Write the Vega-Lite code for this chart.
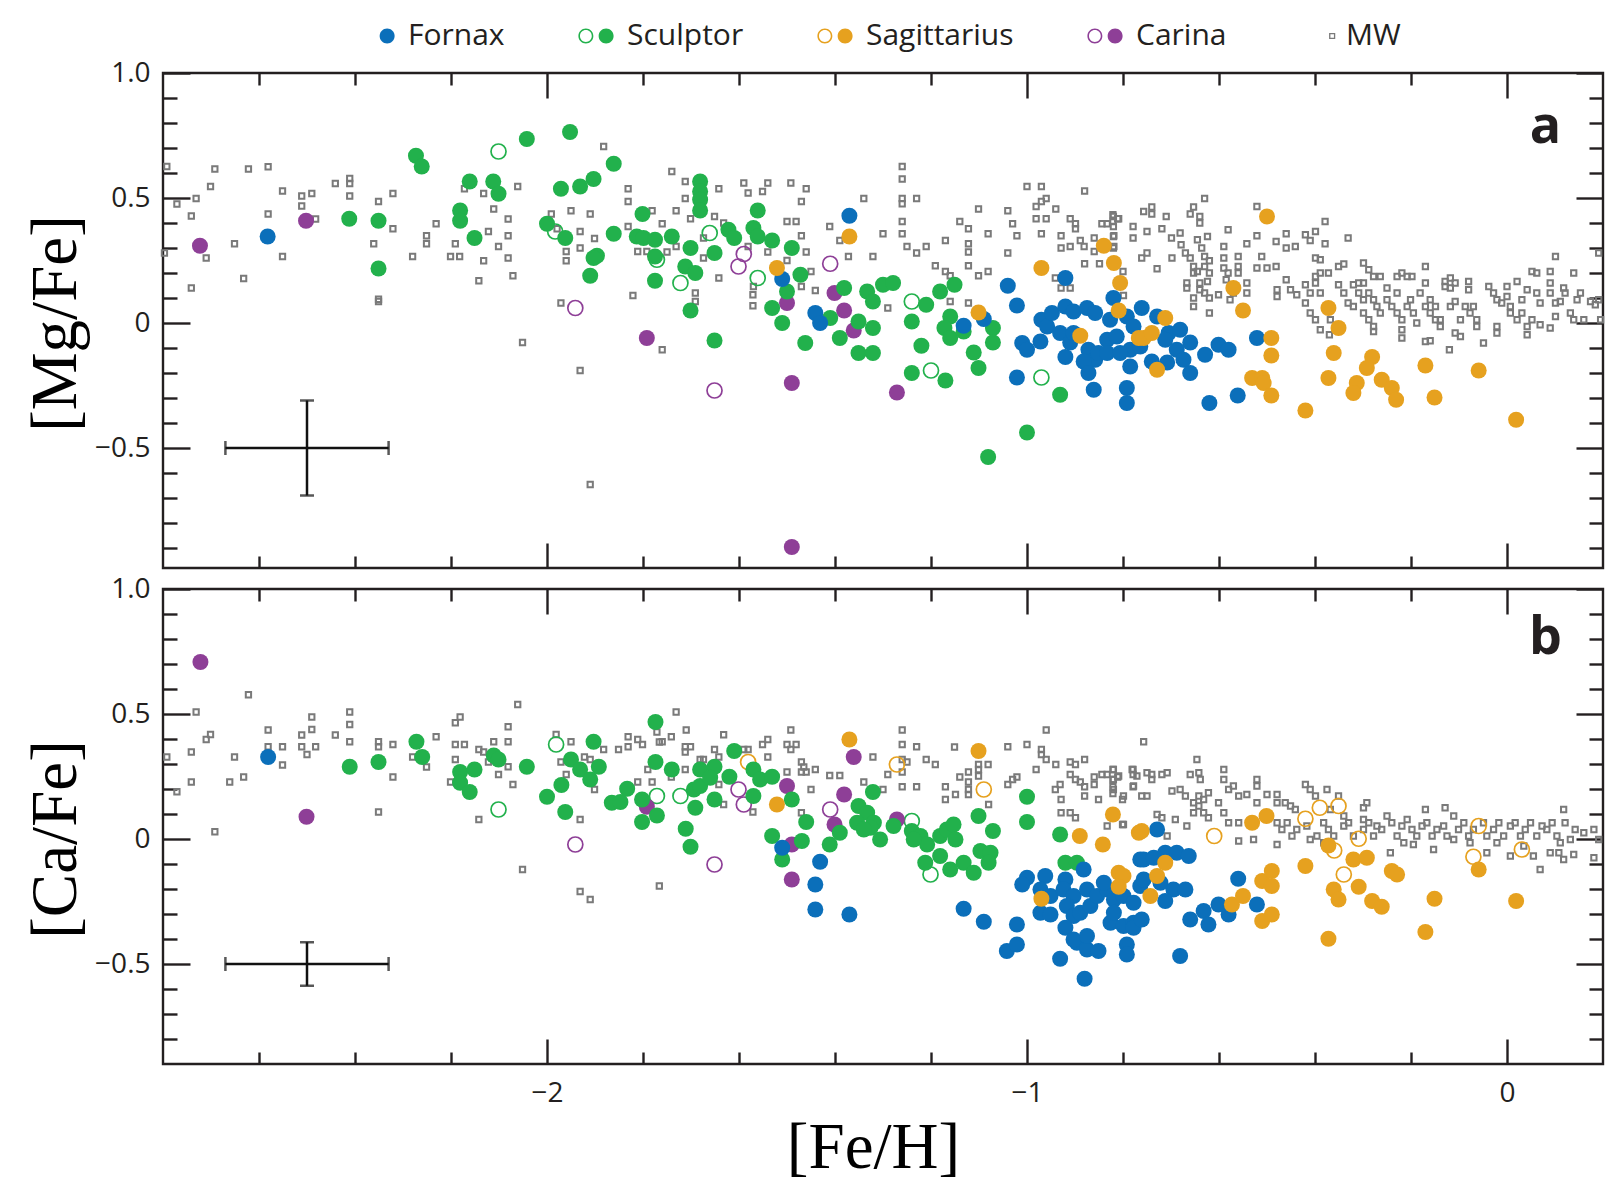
{
"$schema":"https://vega.github.io/schema/vega-lite/v6.json",
"background":"white",
"padding":{"left":21,"top":21,"right":5,"bottom":0},
"spacing":2,
"config":{
 "font":"Open Sans",
 "view":{"stroke":"#231f20","strokeWidth":2.4},
 "axis":{"domain":false,"grid":false,"tickColor":"#231f20","tickWidth":2.4,"labelFont":"Open Sans","labelFontSize":28,"labelColor":"#231f20","labelOverlap":false,"labelPadding":40,"titleFont":"Liberation Serif","titleFontSize":65,"titleFontWeight":"normal","titleColor":"#000000"},
 "legend":{"orient":"none","legendX":199,"legendY":-52,"direction":"horizontal","title":null,"labelFont":"Open Sans","labelFontSize":30,"labelColor":"#231f20","symbolSize":310,"labelOffset":16,"columnPadding":73}
},
"datasets":{
"mgMW":[
{"feh":-2.792,"xfe":0.626},{"feh":-2.771,"xfe":0.476},{"feh":-2.741,"xfe":0.428},{"feh":-2.731,"xfe":0.498},{"feh":-2.701,"xfe":0.546},{"feh":-2.692,"xfe":0.616},{"feh":-2.622,"xfe":0.616},{"feh":-2.581,"xfe":0.625},{"feh":-2.551,"xfe":0.528},{"feh":-2.581,"xfe":0.436},{"feh":-2.511,"xfe":0.508},{"feh":-2.49,"xfe":0.518},{"feh":-2.511,"xfe":0.468},{"feh":-2.482,"xfe":0.416},{"feh":-2.441,"xfe":0.558},{"feh":-2.411,"xfe":0.578},{"feh":-2.411,"xfe":0.558},{"feh":-2.411,"xfe":0.508},{"feh":-2.351,"xfe":0.486},{"feh":-2.321,"xfe":0.518},{"feh":-2.321,"xfe":0.377},{"feh":-2.361,"xfe":0.317},{"feh":-2.651,"xfe":0.317},{"feh":-2.71,"xfe":0.26},{"feh":-2.741,"xfe":0.14},{"feh":-2.632,"xfe":0.178},{"feh":-2.551,"xfe":0.266},{"feh":-2.28,"xfe":0.266},{"feh":-2.251,"xfe":0.349},{"feh":-2.251,"xfe":0.317},{"feh":-2.231,"xfe":0.397},{"feh":-2.191,"xfe":0.317},{"feh":-2.201,"xfe":0.266},{"feh":-2.182,"xfe":0.266},{"feh":-2.172,"xfe":0.537},{"feh":-2.132,"xfe":0.518},{"feh":-2.111,"xfe":0.456},{"feh":-2.081,"xfe":0.416},{"feh":-2.061,"xfe":0.546},{"feh":-2.122,"xfe":0.366},{"feh":-2.081,"xfe":0.349},{"feh":-2.101,"xfe":0.306},{"feh":-2.081,"xfe":0.26},{"feh":-2.132,"xfe":0.249},{"feh":-2.142,"xfe":0.169},{"feh":-2.071,"xfe":0.189},{"feh":-2.351,"xfe":0.086},{"feh":-2.351,"xfe":0.095},{"feh":-2.051,"xfe":-0.078},{"feh":-1.991,"xfe":0.436},{"feh":-1.979,"xfe":0.377},{"feh":-1.95,"xfe":0.449},{"feh":-1.91,"xfe":0.436},{"feh":-1.931,"xfe":0.366},{"feh":-1.901,"xfe":0.338},{"feh":-1.931,"xfe":0.3},{"feh":-1.96,"xfe":0.286},{"feh":-1.96,"xfe":0.249},{"feh":-1.971,"xfe":0.08},{"feh":-1.931,"xfe":-0.19},{"feh":-1.91,"xfe":-0.646},{"feh":-1.882,"xfe":0.706},{"feh":-1.831,"xfe":0.537},{"feh":-1.831,"xfe":0.486},{"feh":-1.831,"xfe":0.386},{"feh":-1.811,"xfe":0.286},{"feh":-1.792,"xfe":0.286},{"feh":-1.821,"xfe":0.11},{"feh":-1.781,"xfe":0.449},{"feh":-2.797,"xfe":0.28},
{"feh":-1.74,"xfe":0.606},{"feh":-1.712,"xfe":0.566},{"feh":-1.712,"xfe":0.498},{"feh":-1.731,"xfe":0.449},{"feh":-1.76,"xfe":0.397},{"feh":-1.701,"xfe":0.417},{"feh":-1.642,"xfe":0.537},{"feh":-1.651,"xfe":0.426},{"feh":-1.632,"xfe":0.4},{"feh":-1.674,"xfe":0.34},{"feh":-1.674,"xfe":0.26},{"feh":-1.731,"xfe":0.306},{"feh":-1.75,"xfe":0.284},{"feh":-1.642,"xfe":0.18},{"feh":-1.691,"xfe":0.12},{"feh":-1.691,"xfe":0.086},{"feh":-1.76,"xfe":-0.107},{"feh":-1.59,"xfe":0.56},{"feh":-1.581,"xfe":0.52},{"feh":-1.551,"xfe":0.526},{"feh":-1.54,"xfe":0.56},{"feh":-1.492,"xfe":0.56},{"feh":-1.46,"xfe":0.537},{"feh":-1.47,"xfe":0.486},{"feh":-1.5,"xfe":0.406},{"feh":-1.481,"xfe":0.406},{"feh":-1.47,"xfe":0.349},{"feh":-1.46,"xfe":0.284},{"feh":-1.54,"xfe":0.284},{"feh":-1.581,"xfe":0.306},{"feh":-1.57,"xfe":0.146},{"feh":-1.571,"xfe":0.113},{"feh":-1.571,"xfe":0.069},{"feh":-1.5,"xfe":0.25},{"feh":-1.47,"xfe":0.146},{"feh":-1.441,"xfe":0.13},{"feh":-1.45,"xfe":0.206},{"feh":-1.411,"xfe":0.386},{"feh":-1.39,"xfe":0.33},{"feh":-1.372,"xfe":0.266},{"feh":-1.34,"xfe":0.498},{"feh":-1.321,"xfe":0.266},{"feh":-1.3,"xfe":0.357},{"feh":-1.29,"xfe":0.06},{"feh":-1.26,"xfe":0.626},{"feh":-1.26,"xfe":0.576},{"feh":-1.26,"xfe":0.498},{"feh":-1.26,"xfe":0.477},{"feh":-1.23,"xfe":0.498},{"feh":-1.26,"xfe":0.406},{"feh":-1.26,"xfe":0.357},{"feh":-1.25,"xfe":0.306},{"feh":-1.23,"xfe":0.28},{"feh":-1.21,"xfe":0.306},{"feh":-1.17,"xfe":0.33},{"feh":-1.191,"xfe":0.229},{"feh":-1.17,"xfe":0.206},{"feh":-1.16,"xfe":0.189},{"feh":-1.16,"xfe":0.086},{"feh":-1.14,"xfe":0.406},{"feh":-1.122,"xfe":0.377},{"feh":-1.122,"xfe":0.317},{"feh":-1.122,"xfe":0.284},{"feh":-1.122,"xfe":0.229},{"feh":-1.122,"xfe":0.08},{"feh":-1.101,"xfe":0.456},{"feh":-1.081,"xfe":0.357},{"feh":-1.081,"xfe":0.206},{"feh":-1.101,"xfe":0.189},{"feh":-1.04,"xfe":0.449},{"feh":-1.03,"xfe":0.397},{"feh":-1.021,"xfe":0.349},{"feh":-1.04,"xfe":0.28},{"feh":-1.0,"xfe":0.546},{"feh":-0.97,"xfe":0.546},{"feh":-0.981,"xfe":0.466},{"feh":-0.97,"xfe":0.486},{"feh":-0.96,"xfe":0.498},{"feh":-0.981,"xfe":0.417},{"feh":-0.96,"xfe":0.417},{"feh":-0.94,"xfe":0.456},{"feh":-0.97,"xfe":0.357},{"feh":-0.929,"xfe":0.349},{"feh":-0.929,"xfe":0.3},{"feh":-0.91,"xfe":0.417},{"feh":-0.91,"xfe":0.306},{"feh":-0.899,"xfe":0.397},{"feh":-0.899,"xfe":0.377},{"feh":-0.889,"xfe":0.33},{"feh":-0.881,"xfe":0.306},{"feh":-0.88,"xfe":0.528},{"feh":-0.88,"xfe":0.237},{"feh":-0.86,"xfe":0.34},{"feh":-0.86,"xfe":0.286},{"feh":-0.849,"xfe":0.237},{"feh":-0.844,"xfe":0.397},{"feh":-0.833,"xfe":0.397},{"feh":-0.821,"xfe":0.433},{"feh":-0.821,"xfe":0.406},{"feh":-0.811,"xfe":0.417},{"feh":-0.819,"xfe":0.349},{"feh":-0.819,"xfe":0.306},{"feh":-0.779,"xfe":0.386},{"feh":-0.779,"xfe":0.34},{"feh":-0.941,"xfe":0.18},{"feh":-0.929,"xfe":0.14},{"feh":-0.91,"xfe":0.14},
{"feh":-0.82,"xfe":0.426},{"feh":-0.809,"xfe":0.417},{"feh":-0.82,"xfe":0.386},{"feh":-0.82,"xfe":0.346},{"feh":-0.82,"xfe":0.3},{"feh":-0.8,"xfe":0.206},{"feh":-0.799,"xfe":0.11},{"feh":-0.757,"xfe":0.446},{"feh":-0.74,"xfe":0.464},{"feh":-0.74,"xfe":0.436},{"feh":-0.75,"xfe":0.366},{"feh":-0.761,"xfe":0.26},{"feh":-0.75,"xfe":0.28},{"feh":-0.729,"xfe":0.217},{"feh":-0.719,"xfe":0.377},{"feh":-0.71,"xfe":0.426},{"feh":-0.698,"xfe":0.26},{"feh":-0.699,"xfe":0.34},{"feh":-0.681,"xfe":0.36},{"feh":-0.679,"xfe":0.313},{"feh":-0.67,"xfe":0.28},{"feh":-0.66,"xfe":0.436},{"feh":-0.653,"xfe":0.464},{"feh":-0.64,"xfe":0.426},{"feh":-0.64,"xfe":0.4},{"feh":-0.63,"xfe":0.498},{"feh":-0.624,"xfe":0.346},{"feh":-0.645,"xfe":0.333},{"feh":-0.636,"xfe":0.3},{"feh":-0.63,"xfe":0.266},{"feh":-0.62,"xfe":0.249},{"feh":-0.66,"xfe":0.26},{"feh":-0.653,"xfe":0.226},{"feh":-0.653,"xfe":0.2},{"feh":-0.645,"xfe":0.206},{"feh":-0.63,"xfe":0.226},{"feh":-0.62,"xfe":0.2},{"feh":-0.624,"xfe":0.166},{"feh":-0.667,"xfe":0.16},{"feh":-0.667,"xfe":0.14},{"feh":-0.64,"xfe":0.16},{"feh":-0.64,"xfe":0.133},{"feh":-0.63,"xfe":0.12},{"feh":-0.62,"xfe":0.1},{"feh":-0.653,"xfe":0.1},{"feh":-0.653,"xfe":0.066},{"feh":-0.62,"xfe":0.04},{"feh":-0.601,"xfe":0.113},{"feh":-0.59,"xfe":0.306},{"feh":-0.59,"xfe":0.26},{"feh":-0.59,"xfe":0.22},{"feh":-0.581,"xfe":0.373},{"feh":-0.581,"xfe":0.2},{"feh":-0.585,"xfe":0.173},{"feh":-0.577,"xfe":0.093},{"feh":-0.57,"xfe":0.12},{"feh":-0.56,"xfe":0.266},{"feh":-0.56,"xfe":0.226},{"feh":-0.56,"xfe":0.2},{"feh":-0.542,"xfe":0.317},{"feh":-0.542,"xfe":0.16},{"feh":-0.542,"xfe":0.12},{"feh":-0.521,"xfe":0.349},{"feh":-0.521,"xfe":0.466},{"feh":-0.511,"xfe":0.266},{"feh":-0.521,"xfe":0.22},{"feh":-0.5,"xfe":0.22},{"feh":-0.481,"xfe":0.226},{"feh":-0.481,"xfe":0.326},{"feh":-0.46,"xfe":0.357},{"feh":-0.46,"xfe":0.3},{"feh":-0.441,"xfe":0.306},{"feh":-0.42,"xfe":0.353},{"feh":-0.41,"xfe":0.33},{"feh":-0.399,"xfe":0.366},{"feh":-0.379,"xfe":0.406},{"feh":-0.379,"xfe":0.317},{"feh":-0.399,"xfe":0.26},{"feh":-0.389,"xfe":0.253},{"feh":-0.479,"xfe":0.133},{"feh":-0.479,"xfe":0.106},{"feh":-0.46,"xfe":0.173},{"feh":-0.451,"xfe":0.133},{"feh":-0.438,"xfe":0.113},{"feh":-0.42,"xfe":0.153},{"feh":-0.41,"xfe":0.12},{"feh":-0.399,"xfe":0.186},{"feh":-0.389,"xfe":0.2},{"feh":-0.372,"xfe":0.2},{"feh":-0.399,"xfe":0.16},{"feh":-0.389,"xfe":0.12},{"feh":-0.42,"xfe":0.08},{"feh":-0.41,"xfe":0.04},{"feh":-0.399,"xfe":0.013},{"feh":-0.389,"xfe":-0.027},{"feh":-0.37,"xfe":-0.047},{"feh":-0.368,"xfe":0.013},{"feh":-0.351,"xfe":0.226},{"feh":-0.34,"xfe":0.236},{"feh":-0.331,"xfe":0.34},{"feh":-0.351,"xfe":0.153},{"feh":-0.34,"xfe":0.12},{"feh":-0.331,"xfe":0.08},{"feh":-0.32,"xfe":0.153},{"feh":-0.309,"xfe":0.16},{"feh":-0.299,"xfe":0.16},{"feh":-0.309,"xfe":0.12},{"feh":-0.32,"xfe":0.066},{"feh":-0.299,"xfe":0.093},{"feh":-0.299,"xfe":0.24},{"feh":-0.288,"xfe":0.213},{"feh":-0.278,"xfe":0.186},{"feh":-0.264,"xfe":0.186},{"feh":-0.288,"xfe":0.12},{"feh":-0.278,"xfe":0.093},{"feh":-0.271,"xfe":0.066},{"feh":-0.299,"xfe":0.04},{"feh":-0.288,"xfe":0.013},{"feh":-0.278,"xfe":-0.014},{"feh":-0.278,"xfe":-0.034},{"feh":-0.264,"xfe":0.04},{"feh":-0.25,"xfe":0.14},{"feh":-0.25,"xfe":0.093},{"feh":-0.24,"xfe":0.066},{"feh":-0.229,"xfe":0.12},{"feh":-0.229,"xfe":0.186},{"feh":-0.219,"xfe":0.2},{"feh":-0.208,"xfe":0.186},{"feh":-0.198,"xfe":0.186},{"feh":-0.229,"xfe":0.04},{"feh":-0.219,"xfe":0.013},{"feh":-0.219,"xfe":-0.027},{"feh":-0.219,"xfe":-0.06},{"feh":-0.208,"xfe":0.066},{"feh":-0.201,"xfe":0.093},{"feh":-0.195,"xfe":0.04},{"feh":-0.188,"xfe":0.0},{"feh":-0.181,"xfe":0.12},{"feh":-0.17,"xfe":0.226},{"feh":-0.17,"xfe":0.16},{"feh":-0.17,"xfe":0.066},{"feh":-0.16,"xfe":0.093},{"feh":-0.16,"xfe":0.04},{"feh":-0.149,"xfe":0.066},{"feh":-0.17,"xfe":-0.074},{"feh":-0.16,"xfe":-0.071},{"feh":-0.149,"xfe":0.013},{"feh":-0.139,"xfe":0.013},{"feh":-0.139,"xfe":-0.014},{"feh":-0.129,"xfe":0.166},{"feh":-0.129,"xfe":0.146},{"feh":-0.118,"xfe":0.18},{"feh":-0.118,"xfe":0.14},{"feh":-0.108,"xfe":0.16},{"feh":-0.118,"xfe":0.066},{"feh":-0.108,"xfe":0.086},{"feh":-0.097,"xfe":0.013},{"feh":-0.108,"xfe":-0.04},{"feh":-0.097,"xfe":-0.054},{"feh":-0.12,"xfe":-0.107},{"feh":-0.087,"xfe":0.066},{"feh":-0.08,"xfe":0.166},{"feh":-0.08,"xfe":0.133},{"feh":-0.077,"xfe":0.04},{"feh":-0.07,"xfe":0.066},{"feh":-0.063,"xfe":0.013},{"feh":-0.063,"xfe":-0.014},{"feh":-0.049,"xfe":-0.08},{"feh":-0.038,"xfe":0.146},{"feh":-0.028,"xfe":0.12},{"feh":-0.021,"xfe":0.093},{"feh":-0.021,"xfe":-0.014},{"feh":-0.021,"xfe":-0.04},{"feh":-0.011,"xfe":0.08},{"feh":0.0,"xfe":0.146},{"feh":0.0,"xfe":0.106},{"feh":0.007,"xfe":0.066},{"feh":0.007,"xfe":0.04},{"feh":0.021,"xfe":0.166},{"feh":0.021,"xfe":0.013},{"feh":0.031,"xfe":0.093},{"feh":0.031,"xfe":0.04},{"feh":0.042,"xfe":0.133},{"feh":0.042,"xfe":-0.014},{"feh":0.042,"xfe":-0.047},{"feh":0.052,"xfe":0.206},{"feh":0.062,"xfe":0.2},{"feh":0.052,"xfe":0.013},{"feh":0.062,"xfe":0.12},{"feh":0.069,"xfe":0.08},{"feh":0.069,"xfe":-0.007},{"feh":0.09,"xfe":0.206},{"feh":0.09,"xfe":0.16},{"feh":0.09,"xfe":0.12},{"feh":0.09,"xfe":-0.02},{"feh":0.101,"xfe":0.266},{"feh":0.101,"xfe":0.08},{"feh":0.101,"xfe":0.026},{"feh":0.111,"xfe":0.086},{"feh":0.118,"xfe":0.14},{"feh":0.121,"xfe":0.12},{"feh":0.132,"xfe":0.04},{"feh":0.139,"xfe":0.2},{"feh":0.139,"xfe":0.013},{"feh":0.146,"xfe":0.093},{"feh":0.153,"xfe":0.12},{"feh":0.16,"xfe":0.013},{"feh":0.174,"xfe":0.086},{"feh":0.184,"xfe":0.073},{"feh":0.191,"xfe":0.28},{"feh":0.191,"xfe":0.093},{"feh":0.195,"xfe":0.013}
],
"mgGal":[
{"g":"Carina","open":0,"feh":-2.723,"xfe":0.309},{"g":"Carina","open":0,"feh":-2.502,"xfe":0.409},{"g":"Carina","open":0,"feh":-1.792,"xfe":-0.06},{"g":"Carina","open":0,"feh":-1.5,"xfe":0.08},{"g":"Carina","open":0,"feh":-1.49,"xfe":-0.24},{"g":"Carina","open":0,"feh":-1.49,"xfe":-0.896},{"g":"Carina","open":0,"feh":-1.401,"xfe":0.12},{"g":"Carina","open":0,"feh":-1.381,"xfe":0.05},{"g":"Carina","open":0,"feh":-1.361,"xfe":-0.03},{"g":"Carina","open":0,"feh":-1.271,"xfe":-0.278},
{"g":"Carina","open":1,"feh":-1.941,"xfe":0.06},{"g":"Carina","open":1,"feh":-1.651,"xfe":-0.27},{"g":"Carina","open":1,"feh":-1.59,"xfe":0.276},{"g":"Carina","open":1,"feh":-1.601,"xfe":0.226},{"g":"Carina","open":1,"feh":-1.41,"xfe":0.237},
{"g":"Sculptor","open":0,"feh":-2.412,"xfe":0.417},{"g":"Sculptor","open":0,"feh":-2.351,"xfe":0.409},{"g":"Sculptor","open":0,"feh":-2.351,"xfe":0.218},{"g":"Sculptor","open":0,"feh":-2.273,"xfe":0.669},{"g":"Sculptor","open":0,"feh":-2.261,"xfe":0.626},{"g":"Sculptor","open":0,"feh":-2.161,"xfe":0.566},{"g":"Sculptor","open":0,"feh":-2.181,"xfe":0.45},{"g":"Sculptor","open":0,"feh":-2.181,"xfe":0.409},{"g":"Sculptor","open":0,"feh":-2.151,"xfe":0.34},{"g":"Sculptor","open":0,"feh":-2.112,"xfe":0.566},{"g":"Sculptor","open":0,"feh":-2.101,"xfe":0.517},{"g":"Sculptor","open":0,"feh":-2.042,"xfe":0.736},{"g":"Sculptor","open":0,"feh":-1.952,"xfe":0.764},{"g":"Sculptor","open":0,"feh":-1.861,"xfe":0.637},{"g":"Sculptor","open":0,"feh":-1.903,"xfe":0.576},{"g":"Sculptor","open":0,"feh":-1.931,"xfe":0.546},{"g":"Sculptor","open":0,"feh":-1.971,"xfe":0.537},{"g":"Sculptor","open":0,"feh":-2.0,"xfe":0.397},{"g":"Sculptor","open":0,"feh":-1.962,"xfe":0.34},{"g":"Sculptor","open":0,"feh":-1.896,"xfe":0.269},{"g":"Sculptor","open":0,"feh":-1.903,"xfe":0.26},{"g":"Sculptor","open":0,"feh":-1.91,"xfe":0.189},{"g":"Sculptor","open":0,"feh":-1.861,"xfe":0.357},{"g":"Sculptor","open":0,"feh":-1.801,"xfe":0.436},{"g":"Sculptor","open":0,"feh":-1.813,"xfe":0.346},{"g":"Sculptor","open":0,"feh":-1.799,"xfe":0.34},{"g":"Sculptor","open":0,"feh":-1.775,"xfe":0.333},{"g":"Sculptor","open":0,"feh":-1.775,"xfe":0.266},{"g":"Sculptor","open":0,"feh":-1.775,"xfe":0.169},{"g":"Sculptor","open":0,"feh":-1.74,"xfe":0.346},{"g":"Sculptor","open":0,"feh":-1.681,"xfe":0.566},{"g":"Sculptor","open":0,"feh":-1.681,"xfe":0.526},{"g":"Sculptor","open":0,"feh":-1.681,"xfe":0.493},{"g":"Sculptor","open":0,"feh":-1.681,"xfe":0.45},{"g":"Sculptor","open":0,"feh":-1.701,"xfe":0.3},{"g":"Sculptor","open":0,"feh":-1.712,"xfe":0.226},{"g":"Sculptor","open":0,"feh":-1.691,"xfe":0.2},{"g":"Sculptor","open":0,"feh":-1.701,"xfe":0.05},{"g":"Sculptor","open":0,"feh":-1.651,"xfe":0.28},{"g":"Sculptor","open":0,"feh":-1.651,"xfe":-0.07},{"g":"Sculptor","open":0,"feh":-1.622,"xfe":0.373},{"g":"Sculptor","open":0,"feh":-1.61,"xfe":0.34},{"g":"Sculptor","open":0,"feh":-1.57,"xfe":0.38},{"g":"Sculptor","open":0,"feh":-1.561,"xfe":0.45},{"g":"Sculptor","open":0,"feh":-1.561,"xfe":0.346},{"g":"Sculptor","open":0,"feh":-1.531,"xfe":0.33},{"g":"Sculptor","open":0,"feh":-1.49,"xfe":0.3},{"g":"Sculptor","open":0,"feh":-1.5,"xfe":0.126},{"g":"Sculptor","open":0,"feh":-1.472,"xfe":0.193},{"g":"Sculptor","open":0,"feh":-1.531,"xfe":0.06},{"g":"Sculptor","open":0,"feh":-1.51,"xfe":0.0},{"g":"Sculptor","open":0,"feh":-1.462,"xfe":-0.08},{"g":"Sculptor","open":0,"feh":-1.41,"xfe":0.02},{"g":"Sculptor","open":0,"feh":-1.381,"xfe":0.14},{"g":"Sculptor","open":0,"feh":-1.39,"xfe":-0.06},{"g":"Sculptor","open":0,"feh":-1.351,"xfe":-0.12},{"g":"Sculptor","open":0,"feh":-1.321,"xfe":-0.12},{"g":"Sculptor","open":0,"feh":-1.351,"xfe":0.006},{"g":"Sculptor","open":0,"feh":-1.321,"xfe":-0.02},{"g":"Sculptor","open":0,"feh":-1.333,"xfe":0.126},{"g":"Sculptor","open":0,"feh":-1.321,"xfe":0.086},{"g":"Sculptor","open":0,"feh":-1.3,"xfe":0.153},{"g":"Sculptor","open":0,"feh":-1.279,"xfe":0.16},{"g":"Sculptor","open":0,"feh":-1.24,"xfe":0.006},{"g":"Sculptor","open":0,"feh":-1.21,"xfe":0.073},{"g":"Sculptor","open":0,"feh":-1.22,"xfe":-0.091},{"g":"Sculptor","open":0,"feh":-1.24,"xfe":-0.2},{"g":"Sculptor","open":0,"feh":-1.17,"xfe":-0.23},{"g":"Sculptor","open":0,"feh":-1.181,"xfe":0.126},{"g":"Sculptor","open":0,"feh":-1.151,"xfe":0.153},{"g":"Sculptor","open":0,"feh":-1.16,"xfe":0.026},{"g":"Sculptor","open":0,"feh":-1.172,"xfe":-0.02},{"g":"Sculptor","open":0,"feh":-1.16,"xfe":-0.06},{"g":"Sculptor","open":0,"feh":-1.132,"xfe":-0.034},{"g":"Sculptor","open":0,"feh":-1.071,"xfe":-0.02},{"g":"Sculptor","open":0,"feh":-1.071,"xfe":-0.078},{"g":"Sculptor","open":0,"feh":-1.111,"xfe":-0.118},{"g":"Sculptor","open":0,"feh":-1.101,"xfe":-0.18},{"g":"Sculptor","open":0,"feh":-1.0,"xfe":-0.438},{"g":"Sculptor","open":0,"feh":-1.081,"xfe":-0.536},{"g":"Sculptor","open":0,"feh":-0.931,"xfe":-0.287},
{"g":"Sculptor","open":1,"feh":-2.101,"xfe":0.686},{"g":"Sculptor","open":1,"feh":-1.983,"xfe":0.366},{"g":"Sculptor","open":1,"feh":-1.771,"xfe":0.253},{"g":"Sculptor","open":1,"feh":-1.661,"xfe":0.36},{"g":"Sculptor","open":1,"feh":-1.722,"xfe":0.16},{"g":"Sculptor","open":1,"feh":-1.561,"xfe":0.18},{"g":"Sculptor","open":1,"feh":-1.24,"xfe":0.086},{"g":"Sculptor","open":1,"feh":-1.2,"xfe":-0.19},{"g":"Sculptor","open":1,"feh":-0.97,"xfe":-0.218},
{"g":"Fornax","open":0,"feh":-2.582,"xfe":0.346},{"g":"Fornax","open":0,"feh":-1.51,"xfe":0.176},{"g":"Fornax","open":0,"feh":-1.37,"xfe":0.429},{"g":"Fornax","open":0,"feh":-1.441,"xfe":0.04},{"g":"Fornax","open":0,"feh":-1.431,"xfe":0.0},{"g":"Fornax","open":0,"feh":-1.132,"xfe":-0.011},{"g":"Fornax","open":0,"feh":-1.09,"xfe":0.016},{"g":"Fornax","open":0,"feh":-1.04,"xfe":0.149},{"g":"Fornax","open":0,"feh":-1.021,"xfe":0.07},{"g":"Fornax","open":0,"feh":-0.92,"xfe":0.18},{"g":"Fornax","open":0,"feh":-1.021,"xfe":-0.218},{"g":"Fornax","open":0,"feh":-1.01,"xfe":-0.08},{"g":"Fornax","open":0,"feh":-1.0,"xfe":-0.107},{"g":"Fornax","open":0,"feh":-0.97,"xfe":0.013},{"g":"Fornax","open":0,"feh":-0.958,"xfe":-0.014},{"g":"Fornax","open":0,"feh":-0.948,"xfe":0.04},{"g":"Fornax","open":0,"feh":-0.92,"xfe":0.066},{"g":"Fornax","open":0,"feh":-0.903,"xfe":0.046},{"g":"Fornax","open":0,"feh":-0.875,"xfe":0.06},{"g":"Fornax","open":0,"feh":-0.858,"xfe":0.04},{"g":"Fornax","open":0,"feh":-0.931,"xfe":-0.04},{"g":"Fornax","open":0,"feh":-0.972,"xfe":-0.074},{"g":"Fornax","open":0,"feh":-0.91,"xfe":-0.078},{"g":"Fornax","open":0,"feh":-0.872,"xfe":-0.107},{"g":"Fornax","open":0,"feh":-0.858,"xfe":-0.147},{"g":"Fornax","open":0,"feh":-0.882,"xfe":-0.154},{"g":"Fornax","open":0,"feh":-0.872,"xfe":-0.2},{"g":"Fornax","open":0,"feh":-0.851,"xfe":-0.12},{"g":"Fornax","open":0,"feh":-0.833,"xfe":-0.067},{"g":"Fornax","open":0,"feh":-0.813,"xfe":-0.054},{"g":"Fornax","open":0,"feh":-0.827,"xfe":0.013},{"g":"Fornax","open":0,"feh":-0.82,"xfe":0.1},{"g":"Fornax","open":0,"feh":-0.792,"xfe":0.026},{"g":"Fornax","open":0,"feh":-0.778,"xfe":-0.014},{"g":"Fornax","open":0,"feh":-0.785,"xfe":-0.107},{"g":"Fornax","open":0,"feh":-0.764,"xfe":-0.094},{"g":"Fornax","open":0,"feh":-0.861,"xfe":-0.267},{"g":"Fornax","open":0,"feh":-0.92,"xfe":-0.136},{"g":"Fornax","open":0,"feh":-0.792,"xfe":-0.26},{"g":"Fornax","open":0,"feh":-0.792,"xfe":-0.32},{"g":"Fornax","open":0,"feh":-0.785,"xfe":-0.174},{"g":"Fornax","open":0,"feh":-0.903,"xfe":-0.04},{"g":"Fornax","open":0,"feh":-0.833,"xfe":-0.12},{"g":"Fornax","open":0,"feh":-0.806,"xfe":-0.12},{"g":"Fornax","open":0,"feh":-0.761,"xfe":0.06},{"g":"Fornax","open":0,"feh":-0.729,"xfe":0.026},{"g":"Fornax","open":0,"feh":-0.705,"xfe":-0.04},{"g":"Fornax","open":0,"feh":-0.681,"xfe":-0.027},{"g":"Fornax","open":0,"feh":-0.66,"xfe":-0.078},{"g":"Fornax","open":0,"feh":-0.712,"xfe":-0.067},{"g":"Fornax","open":0,"feh":-0.688,"xfe":-0.107},{"g":"Fornax","open":0,"feh":-0.674,"xfe":-0.147},{"g":"Fornax","open":0,"feh":-0.66,"xfe":-0.2},{"g":"Fornax","open":0,"feh":-0.708,"xfe":-0.158},{"g":"Fornax","open":0,"feh":-0.74,"xfe":-0.154},{"g":"Fornax","open":0,"feh":-0.629,"xfe":-0.127},{"g":"Fornax","open":0,"feh":-0.601,"xfe":-0.087},{"g":"Fornax","open":0,"feh":-0.58,"xfe":-0.107},{"g":"Fornax","open":0,"feh":-0.521,"xfe":-0.06},{"g":"Fornax","open":0,"feh":-0.62,"xfe":-0.32},{"g":"Fornax","open":0,"feh":-0.561,"xfe":-0.29},
{"g":"Sagittarius","open":0,"feh":-1.521,"xfe":0.22},{"g":"Sagittarius","open":0,"feh":-1.37,"xfe":0.346},{"g":"Sagittarius","open":0,"feh":-1.101,"xfe":0.042},{"g":"Sagittarius","open":0,"feh":-0.97,"xfe":0.22},{"g":"Sagittarius","open":0,"feh":-0.889,"xfe":-0.051},{"g":"Sagittarius","open":0,"feh":-0.84,"xfe":0.309},{"g":"Sagittarius","open":0,"feh":-0.819,"xfe":0.24},{"g":"Sagittarius","open":0,"feh":-0.806,"xfe":0.16},{"g":"Sagittarius","open":0,"feh":-0.809,"xfe":0.05},{"g":"Sagittarius","open":0,"feh":-0.767,"xfe":-0.06},{"g":"Sagittarius","open":0,"feh":-0.5,"xfe":0.426},{"g":"Sagittarius","open":0,"feh":-0.712,"xfe":0.02},{"g":"Sagittarius","open":0,"feh":-0.757,"xfe":-0.06},{"g":"Sagittarius","open":0,"feh":-0.74,"xfe":-0.04},{"g":"Sagittarius","open":0,"feh":-0.729,"xfe":-0.187},{"g":"Sagittarius","open":0,"feh":-0.57,"xfe":0.14},{"g":"Sagittarius","open":0,"feh":-0.55,"xfe":0.05},{"g":"Sagittarius","open":0,"feh":-0.491,"xfe":-0.06},{"g":"Sagittarius","open":0,"feh":-0.491,"xfe":-0.13},{"g":"Sagittarius","open":0,"feh":-0.531,"xfe":-0.22},{"g":"Sagittarius","open":0,"feh":-0.51,"xfe":-0.22},{"g":"Sagittarius","open":0,"feh":-0.507,"xfe":-0.24},{"g":"Sagittarius","open":0,"feh":-0.491,"xfe":-0.29},{"g":"Sagittarius","open":0,"feh":-0.42,"xfe":-0.35},{"g":"Sagittarius","open":0,"feh":-0.372,"xfe":0.06},{"g":"Sagittarius","open":0,"feh":-0.351,"xfe":-0.02},{"g":"Sagittarius","open":0,"feh":-0.361,"xfe":-0.12},{"g":"Sagittarius","open":0,"feh":-0.372,"xfe":-0.22},{"g":"Sagittarius","open":0,"feh":-0.281,"xfe":-0.136},{"g":"Sagittarius","open":0,"feh":-0.292,"xfe":-0.18},{"g":"Sagittarius","open":0,"feh":-0.313,"xfe":-0.24},{"g":"Sagittarius","open":0,"feh":-0.32,"xfe":-0.28},{"g":"Sagittarius","open":0,"feh":-0.261,"xfe":-0.227},{"g":"Sagittarius","open":0,"feh":-0.24,"xfe":-0.26},{"g":"Sagittarius","open":0,"feh":-0.231,"xfe":-0.307},{"g":"Sagittarius","open":0,"feh":-0.17,"xfe":-0.17},{"g":"Sagittarius","open":0,"feh":-0.151,"xfe":-0.298},{"g":"Sagittarius","open":0,"feh":-0.059,"xfe":-0.19},{"g":"Sagittarius","open":0,"feh":0.019,"xfe":-0.387}
],
"caMW":[
{"feh":-2.792,"xfe":0.328},{"feh":-2.771,"xfe":0.189},{"feh":-2.741,"xfe":0.348},{"feh":-2.741,"xfe":0.228},{"feh":-2.731,"xfe":0.508},{"feh":-2.71,"xfe":0.398},{"feh":-2.701,"xfe":0.418},{"feh":-2.692,"xfe":0.029},{"feh":-2.661,"xfe":0.228},{"feh":-2.651,"xfe":0.328},{"feh":-2.632,"xfe":0.248},{"feh":-2.622,"xfe":0.577},{"feh":-2.581,"xfe":0.436},{"feh":-2.581,"xfe":0.369},{"feh":-2.551,"xfe":0.369},{"feh":-2.551,"xfe":0.296},{"feh":-2.511,"xfe":0.416},{"feh":-2.511,"xfe":0.369},{"feh":-2.49,"xfe":0.488},{"feh":-2.49,"xfe":0.438},{"feh":-2.5,"xfe":0.338},{"feh":-2.482,"xfe":0.369},{"feh":-2.441,"xfe":0.416},{"feh":-2.411,"xfe":0.508},{"feh":-2.411,"xfe":0.458},{"feh":-2.411,"xfe":0.389},{"feh":-2.351,"xfe":0.389},{"feh":-2.351,"xfe":0.369},{"feh":-2.351,"xfe":0.108},{"feh":-2.321,"xfe":0.378},{"feh":-2.321,"xfe":0.248},{"feh":-2.28,"xfe":0.328},{"feh":-2.251,"xfe":0.288},{"feh":-2.231,"xfe":0.409},{"feh":-2.191,"xfe":0.465},{"feh":-2.181,"xfe":0.488},{"feh":-2.191,"xfe":0.378},{"feh":-2.172,"xfe":0.378},{"feh":-2.191,"xfe":0.318},{"feh":-2.201,"xfe":0.228},{"feh":-2.142,"xfe":0.358},{"feh":-2.132,"xfe":0.348},{"feh":-2.111,"xfe":0.389},{"feh":-2.081,"xfe":0.389},{"feh":-2.081,"xfe":0.449},{"feh":-2.061,"xfe":0.538},{"feh":-2.122,"xfe":0.308},{"feh":-2.101,"xfe":0.258},{"feh":-2.081,"xfe":0.289},{"feh":-2.071,"xfe":0.218},{"feh":-2.142,"xfe":0.078},{"feh":-2.051,"xfe":-0.122},{"feh":-1.981,"xfe":0.418},{"feh":-1.95,"xfe":0.389},{"feh":-1.971,"xfe":0.308},{"feh":-1.96,"xfe":0.258},{"feh":-1.922,"xfe":0.328},{"feh":-1.91,"xfe":0.318},{"feh":-1.931,"xfe":0.078},{"feh":-1.901,"xfe":0.198},{"feh":-1.931,"xfe":-0.21},{"feh":-1.91,"xfe":-0.242},{"feh":-1.882,"xfe":0.358},{"feh":-1.851,"xfe":0.358},{"feh":-1.831,"xfe":0.409},{"feh":-1.831,"xfe":0.369},{"feh":-1.811,"xfe":0.398},{"feh":-1.801,"xfe":0.378},{"feh":-1.79,"xfe":0.278},{"feh":-1.811,"xfe":0.228},{"feh":-1.781,"xfe":0.228},{"feh":-1.771,"xfe":0.428},{"feh":-1.766,"xfe":0.388},{"feh":-1.766,"xfe":-0.188},
{"feh":-1.731,"xfe":0.508},{"feh":-1.71,"xfe":0.436},{"feh":-1.712,"xfe":0.369},{"feh":-1.701,"xfe":0.369},{"feh":-1.712,"xfe":0.348},{"feh":-1.741,"xfe":0.409},{"feh":-1.76,"xfe":0.389},{"feh":-1.741,"xfe":0.248},{"feh":-1.712,"xfe":0.278},{"feh":-1.681,"xfe":0.318},{"feh":-1.674,"xfe":0.318},{"feh":-1.651,"xfe":0.358},{"feh":-1.642,"xfe":0.328},{"feh":-1.632,"xfe":0.417},{"feh":-1.642,"xfe":0.218},{"feh":-1.632,"xfe":0.138},{"feh":-1.59,"xfe":0.358},{"feh":-1.581,"xfe":0.358},{"feh":-1.551,"xfe":0.378},{"feh":-1.54,"xfe":0.398},{"feh":-1.54,"xfe":0.328},{"feh":-1.5,"xfe":0.378},{"feh":-1.492,"xfe":0.358},{"feh":-1.481,"xfe":0.378},{"feh":-1.492,"xfe":0.436},{"feh":-1.5,"xfe":0.268},{"feh":-1.47,"xfe":0.308},{"feh":-1.465,"xfe":0.288},{"feh":-1.47,"xfe":0.268},{"feh":-1.46,"xfe":0.268},{"feh":-1.441,"xfe":0.278},{"feh":-1.45,"xfe":0.198},{"feh":-1.47,"xfe":0.105},{"feh":-1.571,"xfe":0.108},{"feh":-1.411,"xfe":0.254},{"feh":-1.39,"xfe":0.254},{"feh":-1.34,"xfe":0.228},{"feh":-1.321,"xfe":0.328},{"feh":-1.3,"xfe":0.198},{"feh":-1.29,"xfe":0.258},{"feh":-1.26,"xfe":0.436},{"feh":-1.26,"xfe":0.378},{"feh":-1.26,"xfe":0.318},{"feh":-1.25,"xfe":0.308},{"feh":-1.23,"xfe":0.369},{"feh":-1.26,"xfe":0.268},{"feh":-1.26,"xfe":0.209},{"feh":-1.23,"xfe":0.209},{"feh":-1.21,"xfe":0.318},{"feh":-1.191,"xfe":0.298},{"feh":-1.17,"xfe":0.209},{"feh":-1.17,"xfe":0.158},{"feh":-1.149,"xfe":0.178},{"feh":-1.151,"xfe":0.368},{"feh":-1.14,"xfe":0.248},{"feh":-1.122,"xfe":0.268},{"feh":-1.122,"xfe":0.228},{"feh":-1.122,"xfe":0.198},{"feh":-1.122,"xfe":0.178},{"feh":-1.101,"xfe":0.298},{"feh":-1.101,"xfe":0.278},{"feh":-1.101,"xfe":0.252},{"feh":-1.081,"xfe":0.298},{"feh":-1.08,"xfe":0.138},{"feh":-1.04,"xfe":0.369},{"feh":-1.04,"xfe":0.218},{"feh":-1.03,"xfe":0.238},{"feh":-1.021,"xfe":0.248},{"feh":-1.0,"xfe":0.378},{"feh":-0.981,"xfe":0.278},{"feh":-0.97,"xfe":0.358},{"feh":-0.97,"xfe":0.338},{"feh":-0.96,"xfe":0.318},{"feh":-0.96,"xfe":0.436},{"feh":-0.94,"xfe":0.298},{"feh":-0.91,"xfe":0.308},{"feh":-0.899,"xfe":0.298},{"feh":-0.88,"xfe":0.318},{"feh":-0.91,"xfe":0.258},{"feh":-0.899,"xfe":0.238},{"feh":-0.889,"xfe":0.228},{"feh":-0.88,"xfe":0.209},{"feh":-0.88,"xfe":0.172},{"feh":-0.86,"xfe":0.248},{"feh":-0.86,"xfe":0.218},{"feh":-0.844,"xfe":0.258},{"feh":-0.833,"xfe":0.258},{"feh":-0.821,"xfe":0.278},{"feh":-0.821,"xfe":0.238},{"feh":-0.821,"xfe":0.209},{"feh":-0.821,"xfe":0.182},{"feh":-0.811,"xfe":0.248},{"feh":-0.801,"xfe":0.158},{"feh":-0.779,"xfe":0.278},{"feh":-0.779,"xfe":0.258},{"feh":-0.779,"xfe":0.209},{"feh":-0.801,"xfe":0.058},{"feh":-0.833,"xfe":0.052},{"feh":-0.851,"xfe":0.158},{"feh":-0.929,"xfe":0.158},{"feh":-0.929,"xfe":0.105},{"feh":-0.91,"xfe":0.105},{"feh":-0.899,"xfe":0.085},{"feh":-0.941,"xfe":0.198},{"feh":-0.931,"xfe":0.218},
{"feh":-0.82,"xfe":0.278},{"feh":-0.82,"xfe":0.238},{"feh":-0.82,"xfe":0.198},{"feh":-0.799,"xfe":0.172},{"feh":-0.809,"xfe":0.252},{"feh":-0.781,"xfe":0.278},{"feh":-0.771,"xfe":0.252},{"feh":-0.778,"xfe":0.212},{"feh":-0.75,"xfe":0.265},{"feh":-0.74,"xfe":0.258},{"feh":-0.74,"xfe":0.238},{"feh":-0.761,"xfe":0.172},{"feh":-0.75,"xfe":0.172},{"feh":-0.757,"xfe":0.389},{"feh":-0.719,"xfe":0.258},{"feh":-0.708,"xfe":0.265},{"feh":-0.698,"xfe":0.192},{"feh":-0.681,"xfe":0.198},{"feh":-0.67,"xfe":0.172},{"feh":-0.66,"xfe":0.258},{"feh":-0.653,"xfe":0.105},{"feh":-0.646,"xfe":0.318},{"feh":-0.642,"xfe":0.265},{"feh":-0.639,"xfe":0.238},{"feh":-0.642,"xfe":0.172},{"feh":-0.632,"xfe":0.158},{"feh":-0.622,"xfe":0.185},{"feh":-0.653,"xfe":0.145},{"feh":-0.642,"xfe":0.132},{"feh":-0.632,"xfe":0.105},{"feh":-0.622,"xfe":0.085},{"feh":-0.667,"xfe":0.052},{"feh":-0.691,"xfe":0.078},{"feh":-0.729,"xfe":0.098},{"feh":-0.719,"xfe":0.085},{"feh":-0.799,"xfe":0.058},{"feh":-0.708,"xfe":0.012},{"feh":-0.59,"xfe":0.278},{"feh":-0.59,"xfe":0.238},{"feh":-0.58,"xfe":0.198},{"feh":-0.57,"xfe":0.212},{"feh":-0.601,"xfe":0.145},{"feh":-0.59,"xfe":0.105},{"feh":-0.58,"xfe":0.065},{"feh":-0.559,"xfe":0.172},{"feh":-0.542,"xfe":0.178},{"feh":-0.521,"xfe":0.238},{"feh":-0.521,"xfe":0.212},{"feh":-0.521,"xfe":0.145},{"feh":-0.5,"xfe":0.178},{"feh":-0.479,"xfe":0.178},{"feh":-0.479,"xfe":0.145},{"feh":-0.559,"xfe":0.065},{"feh":-0.559,"xfe":-0.008},{"feh":-0.528,"xfe":-0.002},{"feh":-0.479,"xfe":-0.022},{"feh":-0.462,"xfe":0.145},{"feh":-0.451,"xfe":0.132},{"feh":-0.441,"xfe":0.118},{"feh":-0.42,"xfe":0.218},{"feh":-0.41,"xfe":0.198},{"feh":-0.399,"xfe":0.172},{"feh":-0.375,"xfe":0.198},{"feh":-0.351,"xfe":0.172},{"feh":-0.292,"xfe":0.145},{"feh":-0.299,"xfe":0.125},{"feh":-0.479,"xfe":0.065},{"feh":-0.469,"xfe":0.038},{"feh":-0.458,"xfe":0.065},{"feh":-0.448,"xfe":0.012},{"feh":-0.438,"xfe":0.038},{"feh":-0.417,"xfe":0.052},{"feh":-0.396,"xfe":0.012},{"feh":-0.382,"xfe":0.065},{"feh":-0.372,"xfe":0.038},{"feh":-0.361,"xfe":0.012},{"feh":-0.34,"xfe":0.052},{"feh":-0.33,"xfe":0.065},{"feh":-0.32,"xfe":0.012},{"feh":-0.299,"xfe":0.038},{"feh":-0.288,"xfe":0.065},{"feh":-0.278,"xfe":0.012},{"feh":-0.271,"xfe":0.052},{"feh":-0.261,"xfe":0.038},{"feh":-0.25,"xfe":0.092},{"feh":-0.24,"xfe":0.065},{"feh":-0.229,"xfe":0.012},{"feh":-0.219,"xfe":0.052},{"feh":-0.208,"xfe":0.078},{"feh":-0.198,"xfe":0.038},{"feh":-0.188,"xfe":0.012},{"feh":-0.177,"xfe":0.052},{"feh":-0.167,"xfe":0.065},{"feh":-0.156,"xfe":0.012},{"feh":-0.146,"xfe":0.038},{"feh":-0.132,"xfe":0.052},{"feh":-0.125,"xfe":0.012},{"feh":-0.111,"xfe":0.092},{"feh":-0.101,"xfe":0.038},{"feh":-0.09,"xfe":0.065},{"feh":-0.08,"xfe":0.012},{"feh":-0.07,"xfe":0.038},{"feh":-0.049,"xfe":0.065},{"feh":-0.042,"xfe":0.012},{"feh":-0.028,"xfe":0.038},{"feh":-0.017,"xfe":0.065},{"feh":-0.007,"xfe":0.012},{"feh":0.007,"xfe":0.052},{"feh":0.017,"xfe":0.065},{"feh":0.028,"xfe":0.012},{"feh":0.038,"xfe":0.038},{"feh":0.049,"xfe":0.065},{"feh":0.062,"xfe":0.012},{"feh":0.073,"xfe":0.052},{"feh":0.083,"xfe":0.038},{"feh":0.094,"xfe":0.065},{"feh":0.104,"xfe":0.012},{"feh":0.118,"xfe":0.118},{"feh":0.121,"xfe":0.065},{"feh":0.132,"xfe":-0.002},{"feh":0.142,"xfe":0.038},{"feh":0.16,"xfe":0.025},{"feh":0.181,"xfe":0.038},{"feh":0.191,"xfe":-0.002},{"feh":-0.243,"xfe":-0.055},{"feh":-0.17,"xfe":0.118},{"feh":-0.129,"xfe":0.125},{"feh":-0.042,"xfe":-0.055},{"feh":0.007,"xfe":-0.068},{"feh":0.055,"xfe":-0.068},{"feh":0.069,"xfe":-0.122},{"feh":0.09,"xfe":-0.055},{"feh":0.108,"xfe":-0.055},{"feh":0.118,"xfe":-0.082},{"feh":0.139,"xfe":-0.062},{"feh":0.181,"xfe":-0.075},{"feh":-0.111,"xfe":-0.002},{"feh":-0.215,"xfe":-0.015},{"feh":-0.195,"xfe":-0.022},{"feh":-0.153,"xfe":-0.042},{"feh":-0.382,"xfe":-0.015},{"feh":-0.41,"xfe":-0.002},{"feh":-0.368,"xfe":0.118},{"feh":-0.34,"xfe":0.092},{"feh":-0.299,"xfe":0.078},{"feh":-0.077,"xfe":-0.015},{"feh":-0.021,"xfe":-0.015},{"feh":0.035,"xfe":-0.028},{"feh":0.111,"xfe":-0.015}
],
"caGal":[
{"g":"Carina","open":0,"feh":-2.722,"xfe":0.708},{"g":"Carina","open":0,"feh":-2.501,"xfe":0.089},{"g":"Carina","open":0,"feh":-1.792,"xfe":0.129},{"g":"Carina","open":0,"feh":-1.5,"xfe":0.212},{"g":"Carina","open":0,"feh":-1.49,"xfe":-0.022},{"g":"Carina","open":0,"feh":-1.49,"xfe":-0.162},{"g":"Carina","open":0,"feh":-1.361,"xfe":0.328},{"g":"Carina","open":0,"feh":-1.381,"xfe":0.178},{"g":"Carina","open":0,"feh":-1.401,"xfe":0.058},{"g":"Carina","open":0,"feh":-1.271,"xfe":0.078},
{"g":"Carina","open":1,"feh":-1.941,"xfe":-0.022},{"g":"Carina","open":1,"feh":-1.651,"xfe":-0.102},{"g":"Carina","open":1,"feh":-1.601,"xfe":0.198},{"g":"Carina","open":1,"feh":-1.59,"xfe":0.138},{"g":"Carina","open":1,"feh":-1.41,"xfe":0.118},
{"g":"Sculptor","open":0,"feh":-2.411,"xfe":0.289},{"g":"Sculptor","open":0,"feh":-2.351,"xfe":0.308},{"g":"Sculptor","open":0,"feh":-2.272,"xfe":0.389},{"g":"Sculptor","open":0,"feh":-2.26,"xfe":0.328},{"g":"Sculptor","open":0,"feh":-2.181,"xfe":0.268},{"g":"Sculptor","open":0,"feh":-2.151,"xfe":0.278},{"g":"Sculptor","open":0,"feh":-2.181,"xfe":0.225},{"g":"Sculptor","open":0,"feh":-2.161,"xfe":0.188},{"g":"Sculptor","open":0,"feh":-2.111,"xfe":0.334},{"g":"Sculptor","open":0,"feh":-2.101,"xfe":0.318},{"g":"Sculptor","open":0,"feh":-2.042,"xfe":0.289},{"g":"Sculptor","open":0,"feh":-2.0,"xfe":0.169},{"g":"Sculptor","open":0,"feh":-1.97,"xfe":0.216},{"g":"Sculptor","open":0,"feh":-1.962,"xfe":0.108},{"g":"Sculptor","open":0,"feh":-1.95,"xfe":0.318},{"g":"Sculptor","open":0,"feh":-1.931,"xfe":0.278},{"g":"Sculptor","open":0,"feh":-1.903,"xfe":0.389},{"g":"Sculptor","open":0,"feh":-1.91,"xfe":0.238},{"g":"Sculptor","open":0,"feh":-1.892,"xfe":0.289},{"g":"Sculptor","open":0,"feh":-1.865,"xfe":0.145},{"g":"Sculptor","open":0,"feh":-1.847,"xfe":0.148},{"g":"Sculptor","open":0,"feh":-1.833,"xfe":0.201},{"g":"Sculptor","open":0,"feh":-1.802,"xfe":0.158},{"g":"Sculptor","open":0,"feh":-1.802,"xfe":0.068},{"g":"Sculptor","open":0,"feh":-1.774,"xfe":0.468},{"g":"Sculptor","open":0,"feh":-1.774,"xfe":0.308},{"g":"Sculptor","open":0,"feh":-1.74,"xfe":0.278},{"g":"Sculptor","open":0,"feh":-1.771,"xfe":0.094},{"g":"Sculptor","open":0,"feh":-1.681,"xfe":0.278},{"g":"Sculptor","open":0,"feh":-1.651,"xfe":0.289},{"g":"Sculptor","open":0,"feh":-1.694,"xfe":0.198},{"g":"Sculptor","open":0,"feh":-1.681,"xfe":0.212},{"g":"Sculptor","open":0,"feh":-1.66,"xfe":0.245},{"g":"Sculptor","open":0,"feh":-1.691,"xfe":0.125},{"g":"Sculptor","open":0,"feh":-1.651,"xfe":0.158},{"g":"Sculptor","open":0,"feh":-1.711,"xfe":0.041},{"g":"Sculptor","open":0,"feh":-1.701,"xfe":-0.031},{"g":"Sculptor","open":0,"feh":-1.61,"xfe":0.352},{"g":"Sculptor","open":0,"feh":-1.62,"xfe":0.249},{"g":"Sculptor","open":0,"feh":-1.57,"xfe":0.278},{"g":"Sculptor","open":0,"feh":-1.556,"xfe":0.238},{"g":"Sculptor","open":0,"feh":-1.531,"xfe":0.249},{"g":"Sculptor","open":0,"feh":-1.57,"xfe":0.172},{"g":"Sculptor","open":0,"feh":-1.49,"xfe":0.158},{"g":"Sculptor","open":0,"feh":-1.46,"xfe":0.068},{"g":"Sculptor","open":0,"feh":-1.531,"xfe":0.012},{"g":"Sculptor","open":0,"feh":-1.469,"xfe":-0.008},{"g":"Sculptor","open":0,"feh":-1.51,"xfe":-0.082},{"g":"Sculptor","open":0,"feh":-1.411,"xfe":-0.022},{"g":"Sculptor","open":0,"feh":-1.39,"xfe":0.025},{"g":"Sculptor","open":0,"feh":-1.351,"xfe":0.132},{"g":"Sculptor","open":0,"feh":-1.333,"xfe":0.105},{"g":"Sculptor","open":0,"feh":-1.319,"xfe":0.065},{"g":"Sculptor","open":0,"feh":-1.326,"xfe":0.045},{"g":"Sculptor","open":0,"feh":-1.306,"xfe":-0.002},{"g":"Sculptor","open":0,"feh":-1.354,"xfe":0.065},{"g":"Sculptor","open":0,"feh":-1.34,"xfe":0.038},{"g":"Sculptor","open":0,"feh":-1.321,"xfe":0.188},{"g":"Sculptor","open":0,"feh":-1.278,"xfe":0.052},{"g":"Sculptor","open":0,"feh":-1.24,"xfe":0.032},{"g":"Sculptor","open":0,"feh":-1.222,"xfe":0.012},{"g":"Sculptor","open":0,"feh":-1.208,"xfe":-0.022},{"g":"Sculptor","open":0,"feh":-1.236,"xfe":-0.002},{"g":"Sculptor","open":0,"feh":-1.181,"xfe":0.012},{"g":"Sculptor","open":0,"feh":-1.167,"xfe":0.038},{"g":"Sculptor","open":0,"feh":-1.153,"xfe":0.058},{"g":"Sculptor","open":0,"feh":-1.149,"xfe":-0.002},{"g":"Sculptor","open":0,"feh":-1.212,"xfe":-0.095},{"g":"Sculptor","open":0,"feh":-1.181,"xfe":-0.068},{"g":"Sculptor","open":0,"feh":-1.16,"xfe":-0.122},{"g":"Sculptor","open":0,"feh":-1.132,"xfe":-0.095},{"g":"Sculptor","open":0,"feh":-1.111,"xfe":-0.135},{"g":"Sculptor","open":0,"feh":-1.101,"xfe":0.092},{"g":"Sculptor","open":0,"feh":-1.071,"xfe":0.032},{"g":"Sculptor","open":0,"feh":-1.097,"xfe":-0.048},{"g":"Sculptor","open":0,"feh":-1.076,"xfe":-0.055},{"g":"Sculptor","open":0,"feh":-1.08,"xfe":-0.095},{"g":"Sculptor","open":0,"feh":-1.0,"xfe":0.169},{"g":"Sculptor","open":0,"feh":-1.0,"xfe":0.068},{"g":"Sculptor","open":0,"feh":-0.931,"xfe":0.018},{"g":"Sculptor","open":0,"feh":-0.92,"xfe":-0.095},{"g":"Sculptor","open":0,"feh":-0.896,"xfe":-0.095},
{"g":"Sculptor","open":1,"feh":-2.101,"xfe":0.118},{"g":"Sculptor","open":1,"feh":-1.981,"xfe":0.378},{"g":"Sculptor","open":1,"feh":-1.771,"xfe":0.172},{"g":"Sculptor","open":1,"feh":-1.722,"xfe":0.172},{"g":"Sculptor","open":1,"feh":-1.24,"xfe":0.072},{"g":"Sculptor","open":1,"feh":-1.201,"xfe":-0.142},
{"g":"Fornax","open":0,"feh":-2.581,"xfe":0.328},{"g":"Fornax","open":0,"feh":-1.51,"xfe":-0.035},{"g":"Fornax","open":0,"feh":-1.431,"xfe":-0.091},{"g":"Fornax","open":0,"feh":-1.441,"xfe":-0.182},{"g":"Fornax","open":0,"feh":-1.441,"xfe":-0.282},{"g":"Fornax","open":0,"feh":-1.37,"xfe":-0.302},{"g":"Fornax","open":0,"feh":-1.132,"xfe":-0.279},{"g":"Fornax","open":0,"feh":-1.09,"xfe":-0.331},{"g":"Fornax","open":0,"feh":-1.021,"xfe":-0.342},{"g":"Fornax","open":0,"feh":-1.042,"xfe":-0.448},{"g":"Fornax","open":0,"feh":-1.021,"xfe":-0.422},{"g":"Fornax","open":0,"feh":-0.931,"xfe":-0.479},{"g":"Fornax","open":0,"feh":-0.88,"xfe":-0.559},{"g":"Fornax","open":0,"feh":-1.0,"xfe":-0.155},{"g":"Fornax","open":0,"feh":-1.01,"xfe":-0.182},{"g":"Fornax","open":0,"feh":-0.962,"xfe":-0.148},{"g":"Fornax","open":0,"feh":-0.972,"xfe":-0.202},{"g":"Fornax","open":0,"feh":-0.951,"xfe":-0.228},{"g":"Fornax","open":0,"feh":-0.972,"xfe":-0.295},{"g":"Fornax","open":0,"feh":-0.951,"xfe":-0.302},{"g":"Fornax","open":0,"feh":-0.92,"xfe":-0.162},{"g":"Fornax","open":0,"feh":-0.924,"xfe":-0.202},{"g":"Fornax","open":0,"feh":-0.903,"xfe":-0.228},{"g":"Fornax","open":0,"feh":-0.917,"xfe":-0.268},{"g":"Fornax","open":0,"feh":-0.882,"xfe":-0.122},{"g":"Fornax","open":0,"feh":-0.875,"xfe":-0.202},{"g":"Fornax","open":0,"feh":-0.903,"xfe":-0.308},{"g":"Fornax","open":0,"feh":-0.889,"xfe":-0.295},{"g":"Fornax","open":0,"feh":-0.868,"xfe":-0.268},{"g":"Fornax","open":0,"feh":-0.854,"xfe":-0.228},{"g":"Fornax","open":0,"feh":-0.833,"xfe":-0.202},{"g":"Fornax","open":0,"feh":-0.819,"xfe":-0.242},{"g":"Fornax","open":0,"feh":-0.799,"xfe":-0.228},{"g":"Fornax","open":0,"feh":-0.778,"xfe":-0.255},{"g":"Fornax","open":0,"feh":-0.92,"xfe":-0.355},{"g":"Fornax","open":0,"feh":-0.896,"xfe":-0.415},{"g":"Fornax","open":0,"feh":-0.875,"xfe":-0.442},{"g":"Fornax","open":0,"feh":-0.851,"xfe":-0.448},{"g":"Fornax","open":0,"feh":-0.826,"xfe":-0.335},{"g":"Fornax","open":0,"feh":-0.799,"xfe":-0.348},{"g":"Fornax","open":0,"feh":-0.778,"xfe":-0.335},{"g":"Fornax","open":0,"feh":-0.792,"xfe":-0.422},{"g":"Fornax","open":0,"feh":-0.792,"xfe":-0.462},{"g":"Fornax","open":0,"feh":-0.764,"xfe":-0.082},{"g":"Fornax","open":0,"feh":-0.764,"xfe":-0.188},{"g":"Fornax","open":0,"feh":-0.903,"xfe":-0.402},{"g":"Fornax","open":0,"feh":-0.875,"xfe":-0.388},{"g":"Fornax","open":0,"feh":-0.819,"xfe":-0.295},{"g":"Fornax","open":0,"feh":-0.84,"xfe":-0.175},{"g":"Fornax","open":0,"feh":-0.729,"xfe":0.038},{"g":"Fornax","open":0,"feh":-0.757,"xfe":-0.082},{"g":"Fornax","open":0,"feh":-0.736,"xfe":-0.075},{"g":"Fornax","open":0,"feh":-0.712,"xfe":-0.055},{"g":"Fornax","open":0,"feh":-0.688,"xfe":-0.055},{"g":"Fornax","open":0,"feh":-0.663,"xfe":-0.068},{"g":"Fornax","open":0,"feh":-0.757,"xfe":-0.162},{"g":"Fornax","open":0,"feh":-0.722,"xfe":-0.175},{"g":"Fornax","open":0,"feh":-0.695,"xfe":-0.202},{"g":"Fornax","open":0,"feh":-0.67,"xfe":-0.202},{"g":"Fornax","open":0,"feh":-0.712,"xfe":-0.248},{"g":"Fornax","open":0,"feh":-0.778,"xfe":-0.355},{"g":"Fornax","open":0,"feh":-0.761,"xfe":-0.322},{"g":"Fornax","open":0,"feh":-0.681,"xfe":-0.468},{"g":"Fornax","open":0,"feh":-0.66,"xfe":-0.322},{"g":"Fornax","open":0,"feh":-0.632,"xfe":-0.288},{"g":"Fornax","open":0,"feh":-0.622,"xfe":-0.342},{"g":"Fornax","open":0,"feh":-0.601,"xfe":-0.262},{"g":"Fornax","open":0,"feh":-0.58,"xfe":-0.302},{"g":"Fornax","open":0,"feh":-0.56,"xfe":-0.159},{"g":"Fornax","open":0,"feh":-0.521,"xfe":-0.262},
{"g":"Sagittarius","open":0,"feh":-1.521,"xfe":0.138},{"g":"Sagittarius","open":0,"feh":-1.37,"xfe":0.398},{"g":"Sagittarius","open":0,"feh":-1.101,"xfe":0.352},{"g":"Sagittarius","open":0,"feh":-0.89,"xfe":0.012},{"g":"Sagittarius","open":0,"feh":-0.842,"xfe":-0.022},{"g":"Sagittarius","open":0,"feh":-0.821,"xfe":0.098},{"g":"Sagittarius","open":0,"feh":-0.767,"xfe":0.025},{"g":"Sagittarius","open":0,"feh":-0.809,"xfe":-0.135},{"g":"Sagittarius","open":0,"feh":-0.799,"xfe":-0.148},{"g":"Sagittarius","open":0,"feh":-0.809,"xfe":-0.191},{"g":"Sagittarius","open":0,"feh":-0.97,"xfe":-0.239},{"g":"Sagittarius","open":0,"feh":-0.761,"xfe":0.032},{"g":"Sagittarius","open":0,"feh":-0.712,"xfe":-0.095},{"g":"Sagittarius","open":0,"feh":-0.729,"xfe":-0.148},{"g":"Sagittarius","open":0,"feh":-0.743,"xfe":-0.228},{"g":"Sagittarius","open":0,"feh":-0.573,"xfe":-0.262},{"g":"Sagittarius","open":0,"feh":-0.55,"xfe":-0.228},{"g":"Sagittarius","open":0,"feh":-0.51,"xfe":-0.168},{"g":"Sagittarius","open":0,"feh":-0.49,"xfe":-0.128},{"g":"Sagittarius","open":0,"feh":-0.49,"xfe":-0.188},{"g":"Sagittarius","open":0,"feh":-0.51,"xfe":-0.328},{"g":"Sagittarius","open":0,"feh":-0.49,"xfe":-0.302},{"g":"Sagittarius","open":0,"feh":-0.531,"xfe":0.065},{"g":"Sagittarius","open":0,"feh":-0.501,"xfe":0.092},{"g":"Sagittarius","open":0,"feh":-0.42,"xfe":-0.108},{"g":"Sagittarius","open":0,"feh":-0.372,"xfe":-0.026},{"g":"Sagittarius","open":0,"feh":-0.32,"xfe":-0.082},{"g":"Sagittarius","open":0,"feh":-0.292,"xfe":-0.075},{"g":"Sagittarius","open":0,"feh":-0.309,"xfe":-0.191},{"g":"Sagittarius","open":0,"feh":-0.361,"xfe":-0.202},{"g":"Sagittarius","open":0,"feh":-0.351,"xfe":-0.242},{"g":"Sagittarius","open":0,"feh":-0.281,"xfe":-0.248},{"g":"Sagittarius","open":0,"feh":-0.261,"xfe":-0.271},{"g":"Sagittarius","open":0,"feh":-0.24,"xfe":-0.128},{"g":"Sagittarius","open":0,"feh":-0.229,"xfe":-0.142},{"g":"Sagittarius","open":0,"feh":-0.372,"xfe":-0.399},{"g":"Sagittarius","open":0,"feh":-0.17,"xfe":-0.372},{"g":"Sagittarius","open":0,"feh":-0.151,"xfe":-0.239},{"g":"Sagittarius","open":0,"feh":-0.059,"xfe":-0.122},{"g":"Sagittarius","open":0,"feh":0.019,"xfe":-0.248},
{"g":"Sagittarius","open":1,"feh":-1.581,"xfe":0.308},{"g":"Sagittarius","open":1,"feh":-1.271,"xfe":0.298},{"g":"Sagittarius","open":1,"feh":-1.09,"xfe":0.198},{"g":"Sagittarius","open":1,"feh":-0.61,"xfe":0.012},{"g":"Sagittarius","open":1,"feh":-0.42,"xfe":0.081},{"g":"Sagittarius","open":1,"feh":-0.39,"xfe":0.125},{"g":"Sagittarius","open":1,"feh":-0.351,"xfe":0.132},{"g":"Sagittarius","open":1,"feh":-0.309,"xfe":0.001},{"g":"Sagittarius","open":1,"feh":-0.36,"xfe":-0.046},{"g":"Sagittarius","open":1,"feh":-0.34,"xfe":-0.142},{"g":"Sagittarius","open":1,"feh":-0.059,"xfe":0.052},{"g":"Sagittarius","open":1,"feh":-0.07,"xfe":-0.071},{"g":"Sagittarius","open":1,"feh":0.031,"xfe":-0.042}
]
},
"vconcat":[
{
 "width":1440,"height":495,
 "layer":[
  {"data":{"name":"mgMW"},
   "mark":{"type":"point","shape":"square","filled":false,"size":28,"strokeWidth":2,"opacity":1},
   "encoding":{
    "x":{"field":"feh","type":"quantitative","scale":{"domain":[-2.8,0.2],"nice":false,"zero":false},
     "axis":{"orient":"bottom","values":[-2.6,-2.4,-2.2,-2,-1.8,-1.6,-1.4,-1.2,-1,-0.8,-0.6,-0.4,-0.2,0],"labels":false,"title":null,"tickSize":{"condition":{"test":"abs(datum.value-round(datum.value))<0.001","value":-25},"value":-12}}},
    "y":{"field":"xfe","type":"quantitative","scale":{"domain":[-0.98,1],"nice":false,"zero":false},
     "axis":{"orient":"left","values":[-0.9,-0.8,-0.7,-0.6,-0.5,-0.4,-0.3,-0.2,-0.1,0,0.1,0.2,0.3,0.4,0.5,0.6,0.7,0.8,0.9,1],"tickSize":{"condition":{"test":"abs(datum.value*2-round(datum.value*2))<0.001","value":-27},"value":-14},"labelExpr":"abs(datum.value-1)<0.001 ? '1.0' : abs(datum.value-0.5)<0.001 ? '0.5' : abs(datum.value)<0.001 ? '0' : abs(datum.value+0.5)<0.001 ? '\u22120.5' : ''","title":"[Mg/Fe]","titleX":-88,"titleY":250,"titleAngle":270,"titleBaseline":"alphabetic"}},
    "color":{"datum":"MW","type":"nominal","scale":{"domain":["Fornax","Sculptor","Sagittarius","Carina","MW"],"range":["#0b6fba","#22b14c","#e6a11f","#8e3f97","#7a7a7a"]},
     "legend":{"encoding":{"symbols":{"shape":{"value":{"expr":"datum.value === 'Fornax' ? 'M0.3,0A0.85,0.85,0,1,1,2,0A0.85,0.85,0,1,1,0.3,0Z' : datum.value === 'MW' ? 'M1.6,-0.35L2.3,-0.35L2.3,0.35L1.6,0.35ZM1.75,-0.2L1.75,0.2L2.15,0.2L2.15,-0.2Z' : 'M-2,0A0.85,0.85,0,1,1,-0.3,0A0.85,0.85,0,1,1,-2,0ZM-1.82,0A0.67,0.67,0,1,0,-0.48,0A0.67,0.67,0,1,0,-1.82,0ZM0.3,0A0.85,0.85,0,1,1,2,0A0.85,0.85,0,1,1,0.3,0Z'"}},"fill":{"value":{"expr":"datum.value === 'Fornax' ? '#0b6fba' : datum.value === 'Sculptor' ? '#22b14c' : datum.value === 'Sagittarius' ? '#e6a11f' : datum.value === 'Carina' ? '#8e3f97' : '#7a7a7a'"}},"stroke":{"value":"transparent"},"strokeWidth":{"value":0},"size":{"value":310},"opacity":{"value":1},"fillOpacity":{"value":1}}}}}
   }},
  {"mark":{"type":"rule","color":"#a6a6a6","strokeDash":[9,6],"strokeWidth":2},
   "encoding":{"y":{"datum":0,"type":"quantitative","axis":null}}},
  {"data":{"name":"mgGal"},"transform":[{"filter":"datum.open == 1"}],
   "mark":{"type":"point","shape":"circle","filled":false,"size":225,"strokeWidth":1.7,"opacity":1},
   "encoding":{
    "x":{"field":"feh","type":"quantitative","axis":null},
    "y":{"field":"xfe","type":"quantitative","axis":null},
    "color":{"field":"g","type":"nominal","scale":{"domain":["Fornax","Sculptor","Sagittarius","Carina","MW"],"range":["#0b6fba","#22b14c","#e6a11f","#8e3f97","#7a7a7a"]},
     "legend":{"encoding":{"symbols":{"shape":{"value":{"expr":"datum.value === 'Fornax' ? 'M0.3,0A0.85,0.85,0,1,1,2,0A0.85,0.85,0,1,1,0.3,0Z' : datum.value === 'MW' ? 'M1.6,-0.35L2.3,-0.35L2.3,0.35L1.6,0.35ZM1.75,-0.2L1.75,0.2L2.15,0.2L2.15,-0.2Z' : 'M-2,0A0.85,0.85,0,1,1,-0.3,0A0.85,0.85,0,1,1,-2,0ZM-1.82,0A0.67,0.67,0,1,0,-0.48,0A0.67,0.67,0,1,0,-1.82,0ZM0.3,0A0.85,0.85,0,1,1,2,0A0.85,0.85,0,1,1,0.3,0Z'"}},"fill":{"value":{"expr":"datum.value === 'Fornax' ? '#0b6fba' : datum.value === 'Sculptor' ? '#22b14c' : datum.value === 'Sagittarius' ? '#e6a11f' : datum.value === 'Carina' ? '#8e3f97' : '#7a7a7a'"}},"stroke":{"value":"transparent"},"strokeWidth":{"value":0},"size":{"value":310},"opacity":{"value":1},"fillOpacity":{"value":1}}}}}
   }},
  {"data":{"name":"mgGal"},"transform":[{"filter":"datum.open == 0"}],
   "mark":{"type":"point","shape":"circle","filled":true,"size":256,"opacity":1},
   "encoding":{
    "x":{"field":"feh","type":"quantitative","axis":{"orient":"top","values":[-2.6,-2.4,-2.2,-2,-1.8,-1.6,-1.4,-1.2,-1,-0.8,-0.6,-0.4,-0.2,0],"labels":false,"title":null,"tickSize":{"condition":{"test":"abs(datum.value-round(datum.value))<0.001","value":-25},"value":-12}}},
    "y":{"field":"xfe","type":"quantitative","axis":{"orient":"right","values":[-0.9,-0.8,-0.7,-0.6,-0.5,-0.4,-0.3,-0.2,-0.1,0,0.1,0.2,0.3,0.4,0.5,0.6,0.7,0.8,0.9,1],"labels":false,"title":null,"tickSize":{"condition":{"test":"abs(datum.value*2-round(datum.value*2))<0.001","value":-27},"value":-14}}},
    "color":{"field":"g","type":"nominal","scale":{"domain":["Fornax","Sculptor","Sagittarius","Carina","MW"],"range":["#0b6fba","#22b14c","#e6a11f","#8e3f97","#7a7a7a"]},
     "legend":{"encoding":{"symbols":{"shape":{"value":{"expr":"datum.value === 'Fornax' ? 'M0.3,0A0.85,0.85,0,1,1,2,0A0.85,0.85,0,1,1,0.3,0Z' : datum.value === 'MW' ? 'M1.6,-0.35L2.3,-0.35L2.3,0.35L1.6,0.35ZM1.75,-0.2L1.75,0.2L2.15,0.2L2.15,-0.2Z' : 'M-2,0A0.85,0.85,0,1,1,-0.3,0A0.85,0.85,0,1,1,-2,0ZM-1.82,0A0.67,0.67,0,1,0,-0.48,0A0.67,0.67,0,1,0,-1.82,0ZM0.3,0A0.85,0.85,0,1,1,2,0A0.85,0.85,0,1,1,0.3,0Z'"}},"fill":{"value":{"expr":"datum.value === 'Fornax' ? '#0b6fba' : datum.value === 'Sculptor' ? '#22b14c' : datum.value === 'Sagittarius' ? '#e6a11f' : datum.value === 'Carina' ? '#8e3f97' : '#7a7a7a'"}},"stroke":{"value":"transparent"},"strokeWidth":{"value":0},"size":{"value":310},"opacity":{"value":1},"fillOpacity":{"value":1}}}}}
   }},
  {"data":{"values":[{"feh":-2.5,"xfe":-0.5,"fehErr":0.17,"xfeErr":0.19}]},
   "mark":{"type":"errorbar","ticks":{"size":14,"thickness":2.5},"color":"#111111","thickness":2.5},
   "encoding":{"x":{"field":"feh","type":"quantitative","axis":null},"xError":{"field":"fehErr"},"y":{"field":"xfe","type":"quantitative","axis":null}}},
  {"data":{"values":[{"feh":-2.5,"xfe":-0.5,"fehErr":0.17,"xfeErr":0.19}]},
   "mark":{"type":"errorbar","ticks":{"size":14,"thickness":2.5},"color":"#111111","thickness":2.5},
   "encoding":{"x":{"field":"feh","type":"quantitative","axis":null},"y":{"field":"xfe","type":"quantitative","axis":null},"yError":{"field":"xfeErr"}}},
  {"data":{"values":[{"feh":0.08,"xfe":0.72,"panel":"a"}]},
   "mark":{"type":"text","font":"Open Sans","fontSize":52,"fontWeight":"bold","align":"center","baseline":"alphabetic","color":"#231f20"},
   "encoding":{"x":{"field":"feh","type":"quantitative","axis":null},"y":{"field":"xfe","type":"quantitative","axis":null},"text":{"field":"panel"}}}
 ],
 "resolve":{"axis":{"x":"independent","y":"independent"}}
},
{
 "width":1440,"height":475,
 "layer":[
  {"data":{"name":"caMW"},
   "mark":{"type":"point","shape":"square","filled":false,"size":28,"strokeWidth":2,"opacity":1},
   "encoding":{
    "x":{"field":"feh","type":"quantitative","scale":{"domain":[-2.8,0.2],"nice":false,"zero":false},
     "axis":{"orient":"bottom","values":[-2.6,-2.4,-2.2,-2,-1.8,-1.6,-1.4,-1.2,-1,-0.8,-0.6,-0.4,-0.2,0],"tickSize":{"condition":{"test":"abs(datum.value-round(datum.value))<0.001","value":-25},"value":-12},"labelExpr":"abs(datum.value+2)<0.001 ? '\u22122' : abs(datum.value+1)<0.001 ? '\u22121' : abs(datum.value)<0.001 ? '0' : ''","labelFlush":false,"title":"[Fe/H]","titleX":710,"titleY":103,"titleBaseline":"alphabetic"}},
    "y":{"field":"xfe","type":"quantitative","scale":{"domain":[-0.9,1],"nice":false,"zero":false},
     "axis":{"orient":"left","values":[-0.8,-0.7,-0.6,-0.5,-0.4,-0.3,-0.2,-0.1,0,0.1,0.2,0.3,0.4,0.5,0.6,0.7,0.8,0.9,1],"tickSize":{"condition":{"test":"abs(datum.value*2-round(datum.value*2))<0.001","value":-27},"value":-14},"labelExpr":"abs(datum.value-1)<0.001 ? '1.0' : abs(datum.value-0.5)<0.001 ? '0.5' : abs(datum.value)<0.001 ? '0' : abs(datum.value+0.5)<0.001 ? '\u22120.5' : ''","title":"[Ca/Fe]","titleX":-88,"titleY":250,"titleAngle":270,"titleBaseline":"alphabetic"}},
    "color":{"datum":"MW","type":"nominal","scale":{"domain":["Fornax","Sculptor","Sagittarius","Carina","MW"],"range":["#0b6fba","#22b14c","#e6a11f","#8e3f97","#7a7a7a"]},
     "legend":{"encoding":{"symbols":{"shape":{"value":{"expr":"datum.value === 'Fornax' ? 'M0.3,0A0.85,0.85,0,1,1,2,0A0.85,0.85,0,1,1,0.3,0Z' : datum.value === 'MW' ? 'M1.6,-0.35L2.3,-0.35L2.3,0.35L1.6,0.35ZM1.75,-0.2L1.75,0.2L2.15,0.2L2.15,-0.2Z' : 'M-2,0A0.85,0.85,0,1,1,-0.3,0A0.85,0.85,0,1,1,-2,0ZM-1.82,0A0.67,0.67,0,1,0,-0.48,0A0.67,0.67,0,1,0,-1.82,0ZM0.3,0A0.85,0.85,0,1,1,2,0A0.85,0.85,0,1,1,0.3,0Z'"}},"fill":{"value":{"expr":"datum.value === 'Fornax' ? '#0b6fba' : datum.value === 'Sculptor' ? '#22b14c' : datum.value === 'Sagittarius' ? '#e6a11f' : datum.value === 'Carina' ? '#8e3f97' : '#7a7a7a'"}},"stroke":{"value":"transparent"},"strokeWidth":{"value":0},"size":{"value":310},"opacity":{"value":1},"fillOpacity":{"value":1}}}}}
   }},
  {"mark":{"type":"rule","color":"#a6a6a6","strokeDash":[9,6],"strokeWidth":2},
   "encoding":{"y":{"datum":0,"type":"quantitative","axis":null}}},
  {"data":{"name":"caGal"},"transform":[{"filter":"datum.open == 1"}],
   "mark":{"type":"point","shape":"circle","filled":false,"size":225,"strokeWidth":1.7,"opacity":1},
   "encoding":{
    "x":{"field":"feh","type":"quantitative","axis":null},
    "y":{"field":"xfe","type":"quantitative","axis":null},
    "color":{"field":"g","type":"nominal","scale":{"domain":["Fornax","Sculptor","Sagittarius","Carina","MW"],"range":["#0b6fba","#22b14c","#e6a11f","#8e3f97","#7a7a7a"]},
     "legend":{"encoding":{"symbols":{"shape":{"value":{"expr":"datum.value === 'Fornax' ? 'M0.3,0A0.85,0.85,0,1,1,2,0A0.85,0.85,0,1,1,0.3,0Z' : datum.value === 'MW' ? 'M1.6,-0.35L2.3,-0.35L2.3,0.35L1.6,0.35ZM1.75,-0.2L1.75,0.2L2.15,0.2L2.15,-0.2Z' : 'M-2,0A0.85,0.85,0,1,1,-0.3,0A0.85,0.85,0,1,1,-2,0ZM-1.82,0A0.67,0.67,0,1,0,-0.48,0A0.67,0.67,0,1,0,-1.82,0ZM0.3,0A0.85,0.85,0,1,1,2,0A0.85,0.85,0,1,1,0.3,0Z'"}},"fill":{"value":{"expr":"datum.value === 'Fornax' ? '#0b6fba' : datum.value === 'Sculptor' ? '#22b14c' : datum.value === 'Sagittarius' ? '#e6a11f' : datum.value === 'Carina' ? '#8e3f97' : '#7a7a7a'"}},"stroke":{"value":"transparent"},"strokeWidth":{"value":0},"size":{"value":310},"opacity":{"value":1},"fillOpacity":{"value":1}}}}}
   }},
  {"data":{"name":"caGal"},"transform":[{"filter":"datum.open == 0"}],
   "mark":{"type":"point","shape":"circle","filled":true,"size":256,"opacity":1},
   "encoding":{
    "x":{"field":"feh","type":"quantitative","axis":{"orient":"top","values":[-2.6,-2.4,-2.2,-2,-1.8,-1.6,-1.4,-1.2,-1,-0.8,-0.6,-0.4,-0.2,0],"labels":false,"title":null,"tickSize":{"condition":{"test":"abs(datum.value-round(datum.value))<0.001","value":-25},"value":-12}}},
    "y":{"field":"xfe","type":"quantitative","axis":{"orient":"right","values":[-0.8,-0.7,-0.6,-0.5,-0.4,-0.3,-0.2,-0.1,0,0.1,0.2,0.3,0.4,0.5,0.6,0.7,0.8,0.9,1],"labels":false,"title":null,"tickSize":{"condition":{"test":"abs(datum.value*2-round(datum.value*2))<0.001","value":-27},"value":-14}}},
    "color":{"field":"g","type":"nominal","scale":{"domain":["Fornax","Sculptor","Sagittarius","Carina","MW"],"range":["#0b6fba","#22b14c","#e6a11f","#8e3f97","#7a7a7a"]},
     "legend":{"encoding":{"symbols":{"shape":{"value":{"expr":"datum.value === 'Fornax' ? 'M0.3,0A0.85,0.85,0,1,1,2,0A0.85,0.85,0,1,1,0.3,0Z' : datum.value === 'MW' ? 'M1.6,-0.35L2.3,-0.35L2.3,0.35L1.6,0.35ZM1.75,-0.2L1.75,0.2L2.15,0.2L2.15,-0.2Z' : 'M-2,0A0.85,0.85,0,1,1,-0.3,0A0.85,0.85,0,1,1,-2,0ZM-1.82,0A0.67,0.67,0,1,0,-0.48,0A0.67,0.67,0,1,0,-1.82,0ZM0.3,0A0.85,0.85,0,1,1,2,0A0.85,0.85,0,1,1,0.3,0Z'"}},"fill":{"value":{"expr":"datum.value === 'Fornax' ? '#0b6fba' : datum.value === 'Sculptor' ? '#22b14c' : datum.value === 'Sagittarius' ? '#e6a11f' : datum.value === 'Carina' ? '#8e3f97' : '#7a7a7a'"}},"stroke":{"value":"transparent"},"strokeWidth":{"value":0},"size":{"value":310},"opacity":{"value":1},"fillOpacity":{"value":1}}}}}
   }},
  {"data":{"values":[{"feh":-2.5,"xfe":-0.5,"fehErr":0.17,"xfeErr":0.087}]},
   "mark":{"type":"errorbar","ticks":{"size":14,"thickness":2.5},"color":"#111111","thickness":2.5},
   "encoding":{"x":{"field":"feh","type":"quantitative","axis":null},"xError":{"field":"fehErr"},"y":{"field":"xfe","type":"quantitative","axis":null}}},
  {"data":{"values":[{"feh":-2.5,"xfe":-0.5,"fehErr":0.17,"xfeErr":0.087}]},
   "mark":{"type":"errorbar","ticks":{"size":14,"thickness":2.5},"color":"#111111","thickness":2.5},
   "encoding":{"x":{"field":"feh","type":"quantitative","axis":null},"y":{"field":"xfe","type":"quantitative","axis":null},"yError":{"field":"xfeErr"}}},
  {"data":{"values":[{"feh":0.08,"xfe":0.74,"panel":"b"}]},
   "mark":{"type":"text","font":"Open Sans","fontSize":52,"fontWeight":"bold","align":"center","baseline":"alphabetic","color":"#231f20"},
   "encoding":{"x":{"field":"feh","type":"quantitative","axis":null},"y":{"field":"xfe","type":"quantitative","axis":null},"text":{"field":"panel"}}}
 ],
 "resolve":{"axis":{"x":"independent","y":"independent"}}
}
],
"resolve":{"scale":{"color":"shared"},"legend":{"color":"shared"}}
}
